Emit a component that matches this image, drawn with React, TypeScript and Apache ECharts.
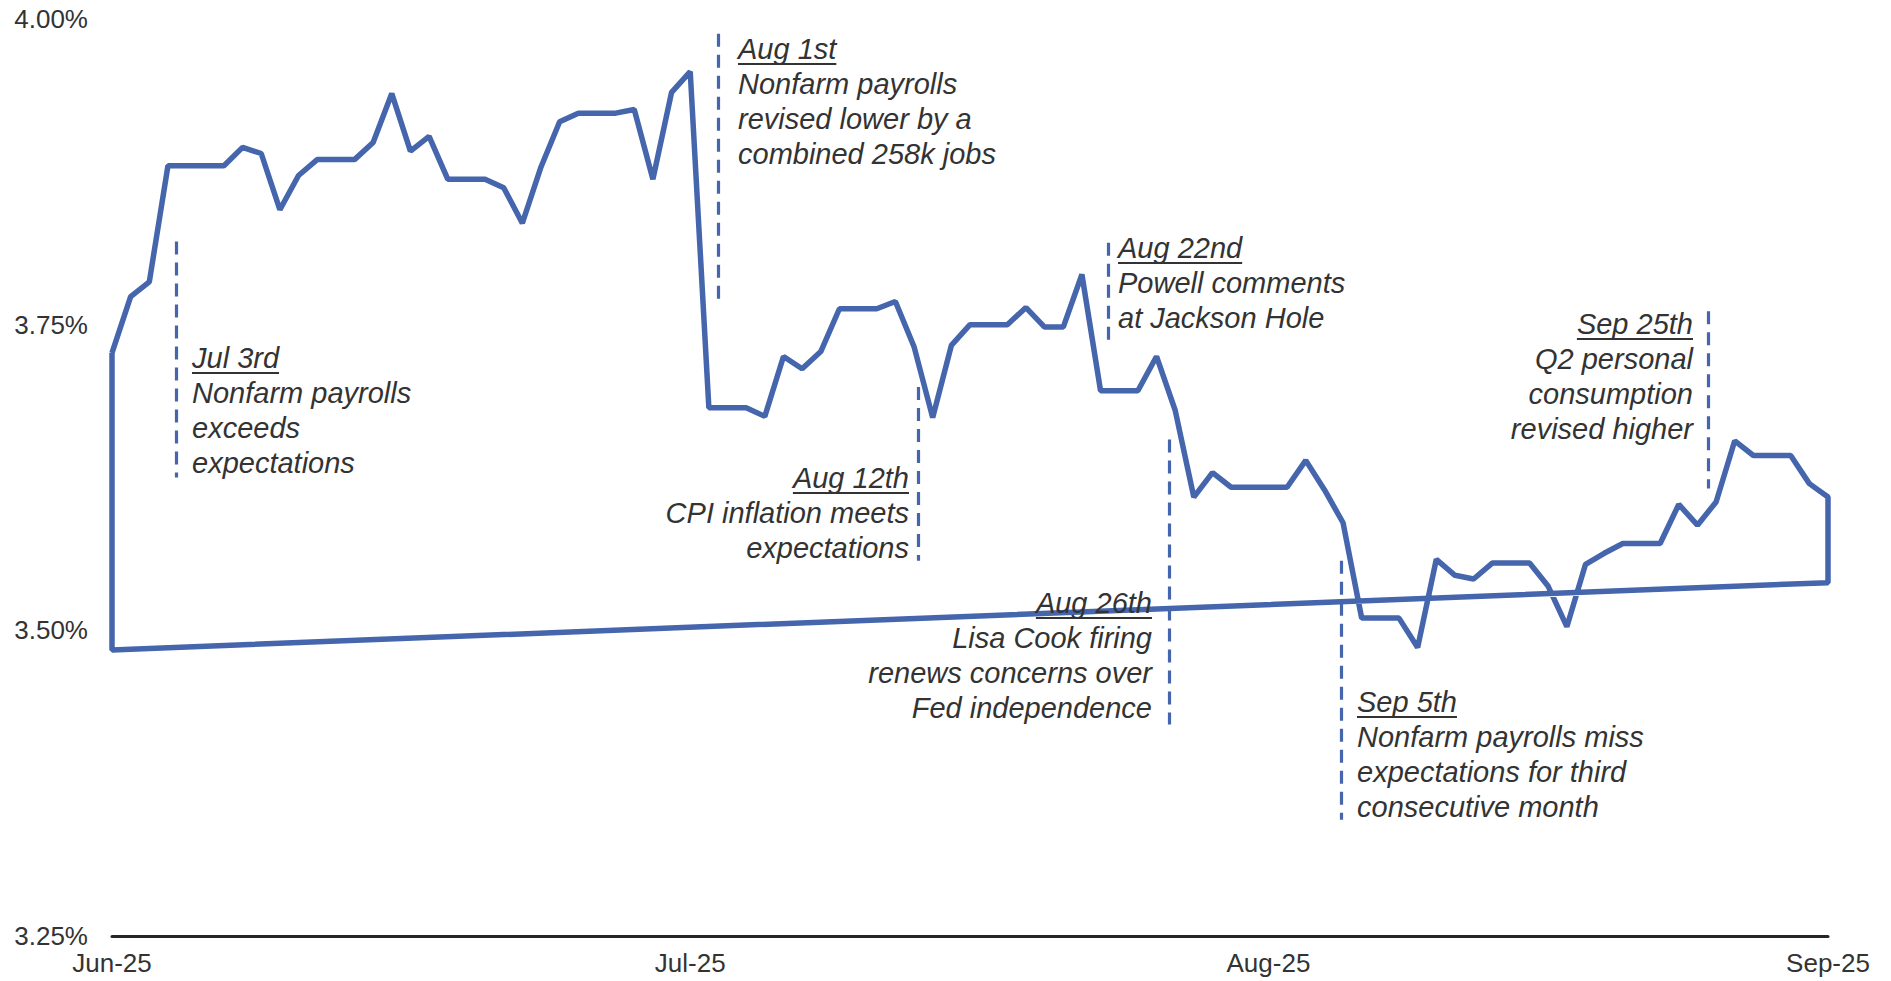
import React, { useEffect, useRef } from "react";
import * as echarts from "echarts";

// Daily yield values (%), day 0 = 30 Jun 2025 ... day 92 = 30 Sep 2025 (weekends carried forward)
const yieldValues: number[] = [
  3.727, 3.773, 3.785, 3.88, 3.88, 3.88, 3.88, 3.895, 3.89, 3.844,
  3.872, 3.885, 3.885, 3.885, 3.899, 3.939, 3.892, 3.904, 3.869, 3.869,
  3.869, 3.862, 3.833, 3.879, 3.916, 3.923, 3.923, 3.923, 3.926, 3.869,
  3.94, 3.957, 3.682, 3.682, 3.682, 3.675, 3.724, 3.714, 3.728, 3.763,
  3.763, 3.763, 3.769, 3.732, 3.674, 3.733, 3.75, 3.75, 3.75, 3.764,
  3.748, 3.748, 3.791, 3.696, 3.696, 3.696, 3.724, 3.68, 3.609, 3.629,
  3.617, 3.617, 3.617, 3.617, 3.639, 3.615, 3.588, 3.51, 3.51, 3.51,
  3.486, 3.558, 3.545, 3.542, 3.555, 3.555, 3.555, 3.536, 3.503, 3.554,
  3.563, 3.571, 3.571, 3.571, 3.603, 3.586, 3.605, 3.655, 3.643, 3.643,
  3.643, 3.62, 3.609,
];

// The source chart's series closes back on itself (end -> start)
const closingDays: number[] = [92, 0, 0];
const closingValues: number[] = [3.539, 3.484, 3.727];

// X axis month labels and their day positions
const monthLabelDays: number[] = [0, 31, 62, 92];
const monthLabels: string[] = ["Jun-25", "Jul-25", "Aug-25", "Sep-25"];

// Y axis ticks
const yMin = 3.25;
const yMax = 4.0;
const yStep = 0.25;

// Event markers: dashed line day position and vertical extent (in %)
const eventDays: number[] = [3.43, 32.5, 43.2, 53.4, 56.7, 65.9, 85.6];
const eventTops: number[] = [3.818, 3.988, 3.699, 3.817, 3.656, 3.557, 3.761];
const eventBottoms: number[] = [3.625, 3.769, 3.557, 3.736, 3.423, 3.345, 3.616];
const eventTitles: string[] = ["Jul 3rd", "Aug 1st", "Aug 12th", "Aug 22nd", "Aug 26th", "Sep 5th", "Sep 25th"];
const eventTexts: string[][] = [
  ["Nonfarm payrolls", "exceeds", "expectations"],
  ["Nonfarm payrolls", "revised lower by a", "combined 258k jobs"],
  ["CPI inflation meets", "expectations"],
  ["Powell comments", "at Jackson Hole"],
  ["Lisa Cook firing", "renews concerns over", "Fed independence"],
  ["Nonfarm payrolls miss", "expectations for third", "consecutive month"],
  ["Q2 personal", "consumption", "revised higher"],
];

// Layout of annotation text blocks (pixels)
const textLayout: { x: number; y: number; align: "left" | "right" }[] = [
  { x: 192, y: 358, align: "left" },
  { x: 738, y: 49, align: "left" },
  { x: 909, y: 478, align: "right" },
  { x: 1118, y: 248, align: "left" },
  { x: 1152, y: 603, align: "right" },
  { x: 1357, y: 702, align: "left" },
  { x: 1693, y: 324, align: "right" },
];

const FONT = "'Liberation Sans', Arial, Helvetica, sans-serif";
const LINE_COLOR = "#4565ad";
const TEXT_COLOR = "#333333";
const ANN_SIZE = 29;
const LINE_H = 35;

function measure(text: string, size: number): number {
  const c = document.createElement("canvas").getContext("2d");
  if (!c) return text.length * size * 0.5;
  c.font = `italic ${size}px ${FONT}`;
  return c.measureText(text).width;
}

export default function App() {
  const ref = useRef<HTMLDivElement>(null);

  useEffect(() => {
    if (!ref.current) return;
    const chart = echarts.init(ref.current, undefined, { renderer: "svg" });

    const mainData: number[][] = yieldValues.map((v, i) => [i, v]);
    closingDays.forEach((d, i) => mainData.push([d, closingValues[i]]));

    const markData = eventDays.map((d, i) => [
      { coord: [d, eventTops[i]] },
      { coord: [d, eventBottoms[i]] },
    ]);

    const graphics: any[] = [];
    eventTitles.forEach((title, i) => {
      const lay = textLayout[i];
      const lines = [title, ...eventTexts[i]];
      lines.forEach((t, j) => {
        graphics.push({
          type: "text",
          z: 10,
          style: {
            text: t,
            x: lay.x,
            y: lay.y + j * LINE_H,
            align: lay.align,
            verticalAlign: "middle",
            fontSize: ANN_SIZE,
            fontStyle: "italic",
            fontFamily: FONT,
            fill: TEXT_COLOR,
          },
        });
      });
      const w = measure(title, ANN_SIZE);
      const x1 = lay.align === "left" ? lay.x : lay.x - w;
      const uy = lay.y + 15;
      graphics.push({
        type: "line",
        z: 10,
        shape: { x1: x1, y1: uy, x2: x1 + w, y2: uy },
        style: { stroke: TEXT_COLOR, lineWidth: 2 },
      });
    });

    chart.setOption({
      animation: false,
      backgroundColor: "#ffffff",
      grid: { left: 112, right: 63, top: 19, bottom: 45 },
      xAxis: {
        type: "value",
        min: 0,
        max: 92,
        axisLine: { show: true, onZero: false, lineStyle: { color: "#262626", width: 3 } },
        axisTick: { show: false },
        splitLine: { show: false },
        axisLabel: {
          customValues: monthLabelDays,
          formatter: (v: number) => {
            const k = monthLabelDays.indexOf(Math.round(v));
            return k >= 0 ? monthLabels[k] : "";
          },
          fontSize: 26,
          fontFamily: FONT,
          color: TEXT_COLOR,
          margin: 14,
        },
      },
      yAxis: {
        type: "value",
        min: yMin,
        max: yMax,
        interval: yStep,
        axisLine: { show: false },
        axisTick: { show: false },
        splitLine: { show: false },
        axisLabel: {
          formatter: (v: number) => v.toFixed(2) + "%",
          fontSize: 26,
          fontFamily: FONT,
          color: TEXT_COLOR,
          margin: 24,
        },
      },
      series: [
        {
          type: "line",
          data: mainData,
          showSymbol: false,
          symbol: "none",
          lineStyle: { color: LINE_COLOR, width: 5.5 },
          z: 3,
        },
        {
          type: "line",
          data: [],
          markLine: {
            silent: true,
            symbol: ["none", "none"],
            label: { show: false },
            lineStyle: { color: LINE_COLOR, width: 3.2, type: [13, 8] },
            data: markData,
          },
        },
      ],
      graphic: graphics,
    });

    return () => chart.dispose();
  }, []);

  return (
    <div
      ref={ref}
      style={{ position: "fixed", left: 0, top: 0, width: 1891, height: 981, background: "#fff" }}
    />
  );
}
